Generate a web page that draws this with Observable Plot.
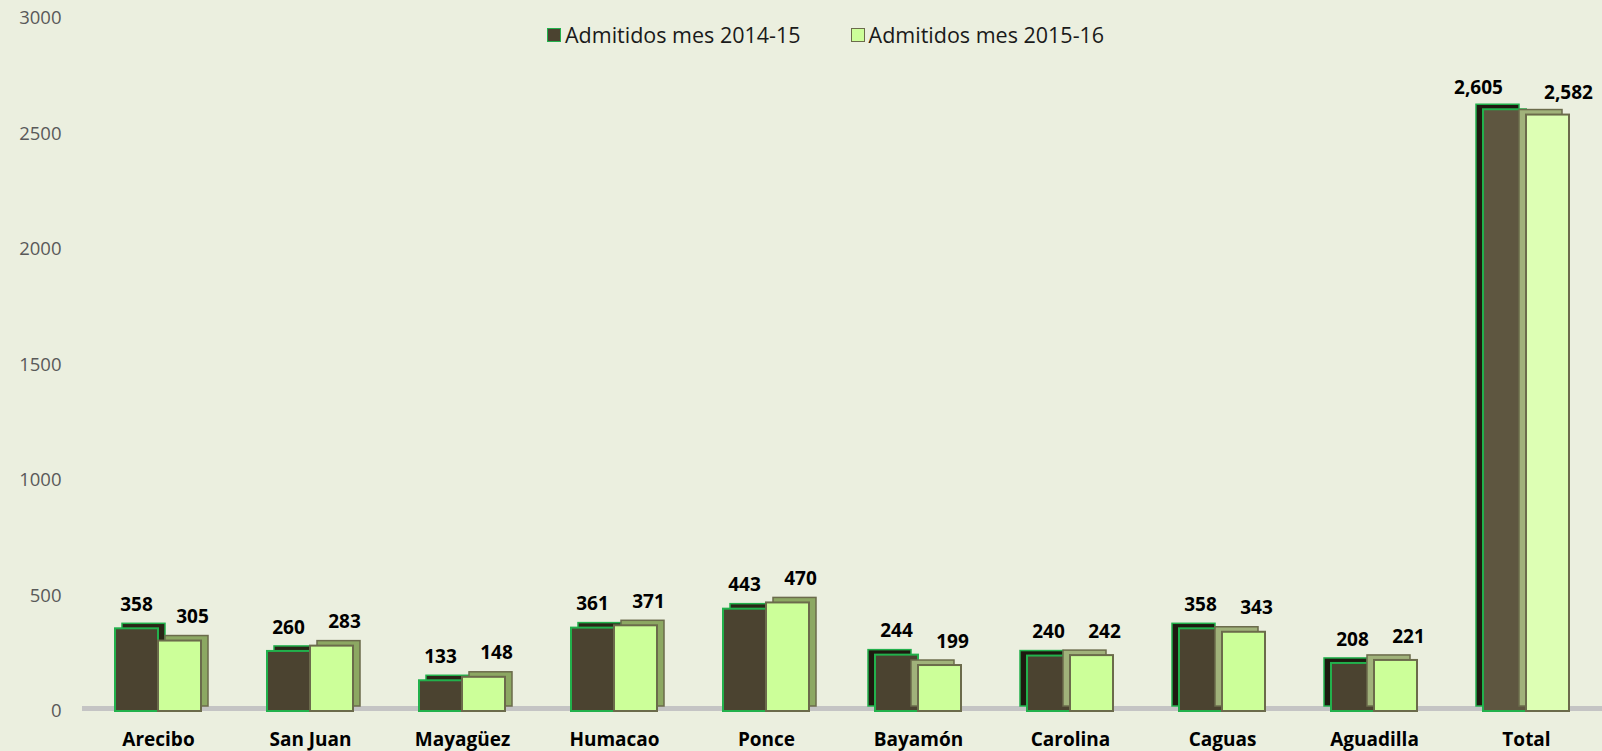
<!DOCTYPE html>
<html>
<head>
<meta charset="utf-8">
<script src="https://cdn.jsdelivr.net/npm/d3@7"></script>
<script src="https://cdn.jsdelivr.net/npm/@observablehq/plot@0.6"></script>
<style>
  html, body { margin: 0; padding: 0; background: #EBEFDF; }
  #wrap { position: relative; width: 1602px; height: 751px; overflow: hidden; }
  #legend { position: absolute; top: 20px; left: 547px; display: flex; gap: 50px;
    font-family: "Open Sans", "Noto Sans", sans-serif; font-size: 21.5px; color: #1a1a1a; }
  .item { display: flex; align-items: center; gap: 4px; }
  .sw { width: 12px; height: 12px; display: inline-block; }
</style>
</head>
<body>
<div id="wrap">
  <div id="legend">
    <span class="item"><span class="sw" style="background:#4B4330;border:1.5px solid #22B14C"></span>Admitidos mes 2014-15</span>
    <span class="item"><span class="sw" style="background:#CCFF99;border:1.5px solid #6B6B4B"></span>Admitidos mes 2015-16</span>
  </div>
  <div id="chart"></div>
</div>
<script>
const regions = ["Arecibo","San Juan","Mayagüez","Humacao","Ponce","Bayamón","Carolina","Caguas","Aguadilla","Total"];
const admitidos1415 = [358,260,133,361,443,244,240,358,208,2605];
const admitidos1516 = [305,283,148,371,470,199,242,343,221,2582];
const yTicks = [0,500,1000,1500,2000,2500,3000];

const d1 = regions.map((r,i) => ({region: r, value: admitidos1415[i], idx: i}));
const d2 = regions.map((r,i) => ({region: r, value: admitidos1516[i], idx: i}));
const L1 = d1.filter(d => d.idx < 5), R1 = d1.filter(d => d.idx >= 5);
const L2 = d2.filter(d => d.idx < 5), R2 = d2.filter(d => d.idx >= 5);
const fmt = d3.format(",");

const half = 43;
const dxd = 7, dyd = 5;

const chart = Plot.plot({
  width: 1602,
  height: 751,
  marginTop: 18,
  marginBottom: 40,
  marginLeft: 82,
  marginRight: 0,
  style: {background: "transparent", fontFamily: "'Open Sans', 'Noto Sans', sans-serif"},
  x: {domain: regions, paddingInner: 0.434, paddingOuter: 0.217, label: null},
  y: {domain: [0, 3000], label: null},
  marks: [
    // floor
    Plot.ruleY([0], {stroke: "#C4C4C4", strokeWidth: 5, dy: -3}),
    // dark series back faces
    Plot.barY(L1, {x: "region", y: "value", insetRight: half, fill: "#2A2617", stroke: "#22B14C", strokeWidth: 1.5, dx: dxd, dy: -dyd}),
    Plot.barY(R1, {x: "region", y: "value", insetRight: half, fill: "#1E1A10", stroke: "#22B14C", strokeWidth: 1.5, dx: -dxd, dy: -dyd}),
    // dark series front
    Plot.barY(d1, {x: "region", y: "value", insetRight: half, fill: (d) => d.idx === 9 ? "#5E5640" : "#4B4330", stroke: "#22B14C", strokeWidth: 2}),
    // light series back faces
    Plot.barY(L2, {x: "region", y: "value", insetLeft: half, fill: "#8CA862", stroke: "#6B6B4B", strokeWidth: 1.5, dx: dxd, dy: -dyd}),
    Plot.barY(R2, {x: "region", y: "value", insetLeft: half, fill: "#A0B27A", stroke: "#6B6B4B", strokeWidth: 1.5, dx: -dxd, dy: -dyd}),
    // light series front
    Plot.barY(d2, {x: "region", y: "value", insetLeft: half, fill: (d) => d.idx === 9 ? "#DDFFB4" : "#CCFF99", stroke: "#6B6B4B", strokeWidth: 2}),
    // labels
    Plot.text(d1.filter(d => d.idx < 9), {x: "region", y: "value", text: d => fmt(d.value), dx: -22, dy: -24, fontWeight: "bold", fontSize: 19, fill: "#000"}),
    Plot.text(d2.filter(d => d.idx < 9), {x: "region", y: "value", text: d => fmt(d.value), dx: 34, dy: -24, fontWeight: "bold", fontSize: 19, fill: "#000"}),
    Plot.text(d1.filter(d => d.idx === 9), {x: "region", y: "value", text: d => fmt(d.value), dx: -48, dy: -22, fontWeight: "bold", fontSize: 19, fill: "#000"}),
    Plot.text(d2.filter(d => d.idx === 9), {x: "region", y: "value", text: d => fmt(d.value), dx: 42, dy: -22, fontWeight: "bold", fontSize: 19, fill: "#000"}),
    Plot.axisX({tickSize: 0, tickPadding: 21, fontWeight: "bold", fontSize: 19, fill: "#000", label: null}),
    Plot.axisY({ticks: yTicks, tickFormat: d => String(d), tickSize: 0, tickPadding: 21, fontSize: 18.5, fill: "#595959", label: null})
  ]
});
document.getElementById("chart").appendChild(chart);
</script>
</body>
</html>
